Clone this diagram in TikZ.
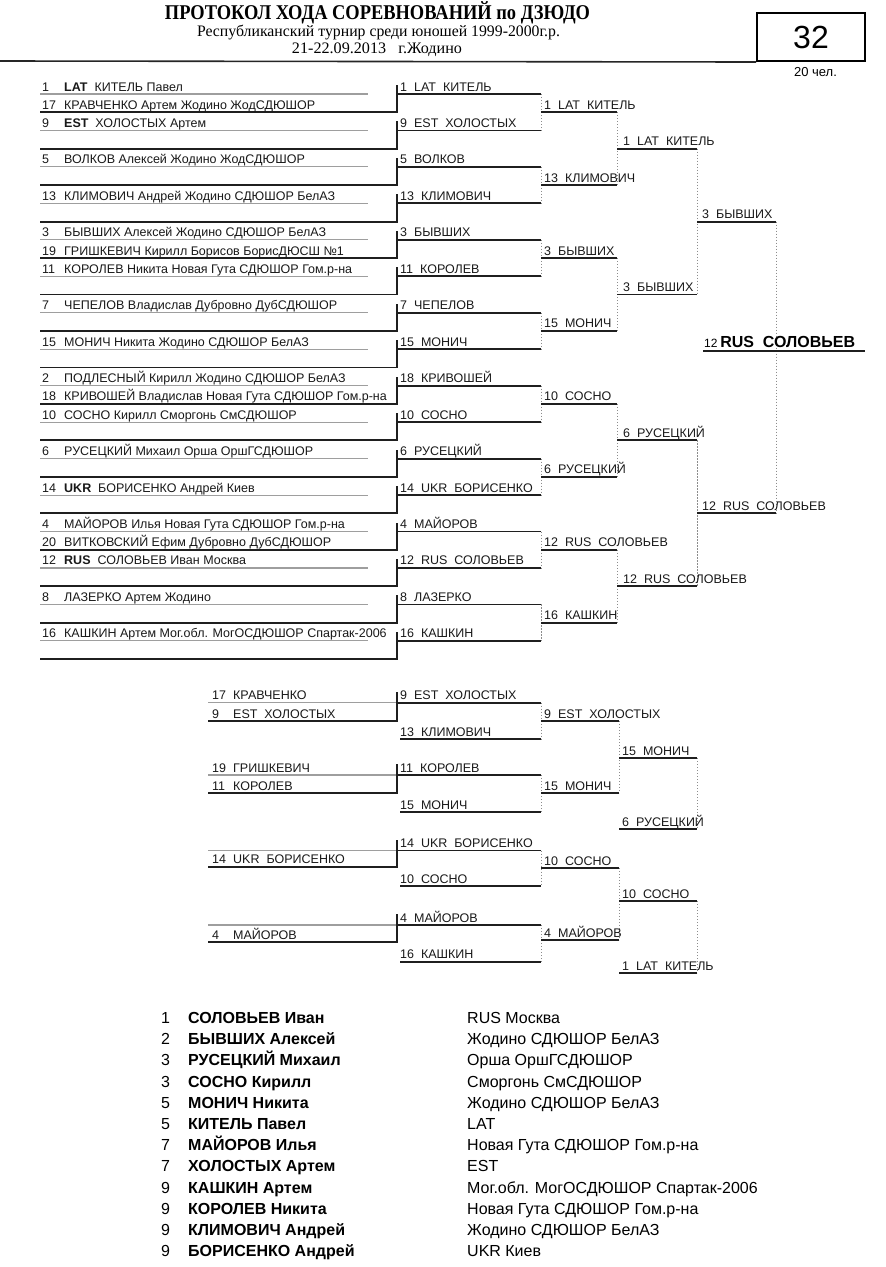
\documentclass[tikz,border=0pt]{standalone}
\usepackage{fontspec}
\usepackage{graphicx}
\setmainfont{Liberation Sans}
\newfontfamily\tmsfont{Liberation Serif}
\tikzset{
 gline/.style={draw=black!38, line width=1.1pt},
 dline/.style={draw=black!88, line width=1.8pt},
 dotv/.style={draw=black!45, line width=0.9pt, dash pattern=on 1.2pt off 1.8pt},
 lbl/.style={anchor=base west, inner sep=0pt, font=\fontsize{12.5}{14}\selectfont, text=black!90},
 res/.style={anchor=base west, inner sep=0pt, font=\fontsize{16}{17}\selectfont, text=black},
 hdr/.style={anchor=base, inner sep=0pt, text=black},
}
\begin{document}
\begin{tikzpicture}[x=1pt,y=-1pt]
\useasboundingbox (0,0) rectangle (886,1267);
\fill[white] (0,0) rectangle (886,1267);

% ---------- header ----------
\node[hdr] (title) at (377.5,19) {\resizebox{425pt}{\height}{\tmsfont\bfseries\fontsize{21}{21}\selectfont ПРОТОКОЛ ХОДА СОРЕВНОВАНИЙ по ДЗЮДО}};
\node[hdr] (sub) at (378.5,36) {\resizebox{363pt}{\height}{\tmsfont\fontsize{16}{16}\selectfont Республиканский турнир среди юношей 1999-2000г.р.}};
\node[hdr] (date) at (377,53) {\resizebox{170pt}{\height}{\tmsfont\fontsize{16}{16}\selectfont 21-22.09.2013~~~г.Жодино}};
\coordinate (hl0) at (0,61);
\node[draw, line width=2pt, minimum width=108pt, minimum height=48pt, inner sep=0pt, font=\fontsize{32}{32}\selectfont] (box) at (811,37) {32};
\draw[line width=1.6pt, black!85] (hl0) -- (box.south west);
\node[font=\fontsize{13}{13}\selectfont, inner sep=0pt] (cnt) at (815.5,72) {20 чел.};

% ---------- main bracket: lines ----------
\foreach \j in {1,...,8}{
  \pgfmathsetmacro\yt{94+18.23*(4*\j-4)}
  \pgfmathsetmacro\yb{94+18.23*(4*\j-2)}
  \coordinate (rbt\j) at (541,\yt); \coordinate (rbb\j) at (541,\yb);
  \draw[dotv] (rbt\j) -- (rbb\j);
}
\foreach \j in {1,...,4}{
  \pgfmathsetmacro\yt{94+18.23*(8*\j-7)}
  \pgfmathsetmacro\yb{94+18.23*(8*\j-3)}
  \coordinate (rct\j) at (617,\yt); \coordinate (rcb\j) at (617,\yb);
  \draw[dotv] (rct\j) -- (rcb\j);
}
\foreach \j in {1,2}{
  \pgfmathsetmacro\yt{94+18.23*(16*\j-13)}
  \pgfmathsetmacro\yb{94+18.23*(16*\j-5)}
  \coordinate (rdt\j) at (697,\yt); \coordinate (rdb\j) at (697,\yb);
  \draw[dotv] (rdt\j) -- (rdb\j);
}
\coordinate (fvt) at (776,{94+18.23*7});
\coordinate (fvb) at (776,{94+18.23*23});
\draw[dotv] (fvt) -- (fvb);

\foreach \k in {1,3,...,31}{
  \pgfmathsetmacro\ya{94+18.23*(\k-1)}
  \pgfmathsetmacro\yb{94+18.23*\k}
  \coordinate (ga\k) at (40,\ya); \coordinate (gb\k) at (368,\ya);
  \coordinate (da\k) at (40,\yb); \coordinate (db\k) at (397,\yb);
  \coordinate (vt\k) at (397,\ya-9);
  \coordinate (wa\k) at (397,\ya); \coordinate (wb\k) at (541,\ya);
  \draw[gline] (ga\k) -- (gb\k);
  \draw[dline] (da\k) -- (db\k) -- (vt\k);
  \draw[dline] (wa\k) -- (wb\k);
}
\foreach \j in {1,...,8}{
  \pgfmathsetmacro\ym{94+18.23*(4*\j-3)}
  \coordinate (rba\j) at (541,\ym); \coordinate (rbe\j) at (617,\ym);
  \draw[dline] (rba\j) -- (rbe\j);
}
\foreach \j in {1,...,4}{
  \pgfmathsetmacro\ym{94+18.23*(8*\j-5)}
  \coordinate (rca\j) at (617,\ym); \coordinate (rce\j) at (697,\ym);
  \draw[dline] (rca\j) -- (rce\j);
}
\foreach \j in {1,2}{
  \pgfmathsetmacro\ym{94+18.23*(16*\j-9)}
  \coordinate (rda\j) at (697,\ym); \coordinate (rde\j) at (776,\ym);
  \draw[dline] (rda\j) -- (rde\j);
}
\coordinate (fwa) at (703,351); \coordinate (fwe) at (865,351);
\draw[dline] (fwa) -- (fwe);

% ---------- main bracket: texts ----------
\foreach \r/\n/\t [count=\i] in {
  1/1/{\textbf{LAT}~~КИТЕЛЬ Павел},
  2/17/{КРАВЧЕНКО Артем Жодино ЖодСДЮШОР},
  3/9/{\textbf{EST}~~ХОЛОСТЫХ Артем},
  5/5/{ВОЛКОВ Алексей Жодино ЖодСДЮШОР},
  7/13/{КЛИМОВИЧ Андрей Жодино СДЮШОР БелАЗ},
  9/3/{БЫВШИХ Алексей Жодино СДЮШОР БелАЗ},
  10/19/{ГРИШКЕВИЧ Кирилл Борисов БорисДЮСШ №1},
  11/11/{КОРОЛЕВ Никита Новая Гута СДЮШОР Гом.р-на},
  13/7/{ЧЕПЕЛОВ Владислав Дубровно ДубСДЮШОР},
  15/15/{МОНИЧ Никита Жодино СДЮШОР БелАЗ},
  17/2/{ПОДЛЕСНЫЙ Кирилл Жодино СДЮШОР БелАЗ},
  18/18/{КРИВОШЕЙ Владислав Новая Гута СДЮШОР Гом.р-на},
  19/10/{СОСНО Кирилл Сморгонь СмСДЮШОР},
  21/6/{РУСЕЦКИЙ Михаил Орша ОршГСДЮШОР},
  23/14/{\textbf{UKR}~~БОРИСЕНКО Андрей Киев},
  25/4/{МАЙОРОВ Илья Новая Гута СДЮШОР Гом.р-на},
  26/20/{ВИТКОВСКИЙ Ефим Дубровно ДубСДЮШОР},
  27/12/{\textbf{RUS}~~СОЛОВЬЕВ Иван Москва},
  29/8/{ЛАЗЕРКО Артем Жодино},
  31/16/{КАШКИН Артем Мог.обл. МогОСДЮШОР Спартак-2006}}{
  \pgfmathsetmacro\yy{94+18.23*(\r-1)-3}
  \node[lbl] (pn\i) at (42,\yy) {\n};
  \node[lbl] (pt\i) at (64,\yy) {\t};
}
\foreach \r/\t [count=\i] in {
  1/{1~~LAT~~КИТЕЛЬ}, 3/{9~~EST~~ХОЛОСТЫХ}, 5/{5~~ВОЛКОВ}, 7/{13~~КЛИМОВИЧ},
  9/{3~~БЫВШИХ}, 11/{11~~КОРОЛЕВ}, 13/{7~~ЧЕПЕЛОВ}, 15/{15~~МОНИЧ},
  17/{18~~КРИВОШЕЙ}, 19/{10~~СОСНО}, 21/{6~~РУСЕЦКИЙ}, 23/{14~~UKR~~БОРИСЕНКО},
  25/{4~~МАЙОРОВ}, 27/{12~~RUS~~СОЛОВЬЕВ}, 29/{8~~ЛАЗЕРКО}, 31/{16~~КАШКИН}}{
  \pgfmathsetmacro\yy{94+18.23*(\r-1)-3}
  \node[lbl] (qa\i) at (400,\yy) {\t};
}
\foreach \r/\t [count=\i] in {
  2/{1~~LAT~~КИТЕЛЬ}, 6/{13~~КЛИМОВИЧ}, 10/{3~~БЫВШИХ}, 14/{15~~МОНИЧ},
  18/{10~~СОСНО}, 22/{6~~РУСЕЦКИЙ}, 26/{12~~RUS~~СОЛОВЬЕВ}, 30/{16~~КАШКИН}}{
  \pgfmathsetmacro\yy{94+18.23*(\r-1)-3}
  \node[lbl] (qb\i) at (544,\yy) {\t};
}
\foreach \r/\t [count=\i] in {
  4/{1~~LAT~~КИТЕЛЬ}, 12/{3~~БЫВШИХ}, 20/{6~~РУСЕЦКИЙ}, 28/{12~~RUS~~СОЛОВЬЕВ}}{
  \pgfmathsetmacro\yy{94+18.23*(\r-1)-3}
  \node[lbl] (qc\i) at (623,\yy) {\t};
}
\foreach \r/\t [count=\i] in {8/{3~~БЫВШИХ}, 24/{12~~RUS~~СОЛОВЬЕВ}}{
  \pgfmathsetmacro\yy{94+18.23*(\r-1)-3}
  \node[lbl] (qd\i) at (702,\yy) {\t};
}
\node[anchor=base west, inner sep=0pt] (champ) at (704,347.5)
  {{\fontsize{12}{12}\selectfont 12}~{\fontsize{16}{16}\selectfont\bfseries RUS~~СОЛОВЬЕВ}};

% ---------- repechage ----------
\foreach \yt/\yb [count=\i] in {702.7/739, 775/812, 850.5/886, 925/961.7}{
  \coordinate (et\i) at (541,\yt); \coordinate (eb\i) at (541,\yb);
  \draw[dotv] (et\i) -- (eb\i);
}
\foreach \yt/\yb [count=\i] in {721/793, 868/940}{
  \coordinate (ft\i) at (619,\yt); \coordinate (fb\i) at (619,\yb);
  \draw[dotv] (ft\i) -- (fb\i);
}
\foreach \yt/\yb [count=\i] in {758/829, 901/973}{
  \coordinate (ht\i) at (697,\yt); \coordinate (hb\i) at (697,\yb);
  \draw[dotv] (ht\i) -- (hb\i);
}
\foreach \yg/\yd/\yl/\ym [count=\i] in {702.7/721/739/721, 775/793.3/812/793, 850.5/866.7/886/868, 925/942/961.7/940}{
  \coordinate (sga\i) at (208,\yg); \coordinate (sgb\i) at (397,\yg);
  \coordinate (sda\i) at (208,\yd); \coordinate (sdb\i) at (397,\yd);
  \coordinate (svt\i) at (397,\yg-11);
  \coordinate (swe\i) at (541,\yg);
  \coordinate (sla\i) at (400,\yl); \coordinate (sle\i) at (541,\yl);
  \coordinate (sma\i) at (541,\ym); \coordinate (sme\i) at (619,\ym);
  \draw[gline] (sga\i) -- (sgb\i);
  \draw[dline] (sda\i) -- (sdb\i) -- (svt\i);
  \draw[dline] (sgb\i) -- (swe\i);
  \draw[dline] (sla\i) -- (sle\i);
  \draw[dline] (sma\i) -- (sme\i);
}
\foreach \y [count=\i] in {758, 829, 901, 973}{
  \coordinate (ka\i) at (619,\y); \coordinate (ke\i) at (697,\y);
  \draw[dline] (ka\i) -- (ke\i);
}
\foreach \y/\n/\t [count=\i] in {
  702.7/17/{КРАВЧЕНКО}, 721/9/{EST~~ХОЛОСТЫХ}, 775/19/{ГРИШКЕВИЧ}, 793.3/11/{КОРОЛЕВ},
  866.7/14/{UKR~~БОРИСЕНКО}, 942/4/{МАЙОРОВ}}{
  \node[lbl] (un\i) at (212,\y-3) {\n};
  \node[lbl] (ut\i) at (233,\y-3) {\t};
}
\foreach \y/\t [count=\i] in {
  702.7/{9~~EST~~ХОЛОСТЫХ}, 739/{13~~КЛИМОВИЧ}, 775/{11~~КОРОЛЕВ}, 812/{15~~МОНИЧ},
  850.5/{14~~UKR~~БОРИСЕНКО}, 886/{10~~СОСНО}, 925/{4~~МАЙОРОВ}, 961.7/{16~~КАШКИН}}{
  \node[lbl] (va\i) at (400,\y-3) {\t};
}
\foreach \y/\t [count=\i] in {
  721/{9~~EST~~ХОЛОСТЫХ}, 793/{15~~МОНИЧ}, 868/{10~~СОСНО}, 940/{4~~МАЙОРОВ}}{
  \node[lbl] (vb\i) at (544,\y-3) {\t};
}
\foreach \y/\t [count=\i] in {
  758/{15~~МОНИЧ}, 829/{6~~РУСЕЦКИЙ}, 901/{10~~СОСНО}, 973/{1~~LAT~~КИТЕЛЬ}}{
  \node[lbl] (vc\i) at (622,\y-3) {\t};
}

% ---------- results ----------
\foreach \p/\nm/\cl [count=\i] in {
  1/{СОЛОВЬЕВ Иван}/{RUS Москва},
  2/{БЫВШИХ Алексей}/{Жодино СДЮШОР БелАЗ},
  3/{РУСЕЦКИЙ Михаил}/{Орша ОршГСДЮШОР},
  3/{СОСНО Кирилл}/{Сморгонь СмСДЮШОР},
  5/{МОНИЧ Никита}/{Жодино СДЮШОР БелАЗ},
  5/{КИТЕЛЬ Павел}/{LAT},
  7/{МАЙОРОВ Илья}/{Новая Гута СДЮШОР Гом.р-на},
  7/{ХОЛОСТЫХ Артем}/{EST},
  9/{КАШКИН Артем}/{Мог.обл. МогОСДЮШОР Спартак-2006},
  9/{КОРОЛЕВ Никита}/{Новая Гута СДЮШОР Гом.р-на},
  9/{КЛИМОВИЧ Андрей}/{Жодино СДЮШОР БелАЗ},
  9/{БОРИСЕНКО Андрей}/{UKR Киев}}{
  \pgfmathsetmacro\yy{1023.5+21.2*(\i-1)}
  \node[res] (xp\i) at (161,\yy) {\p};
  \node[res, font=\fontsize{16}{17}\selectfont\bfseries] (xn\i) at (188,\yy) {\nm};
  \node[res] (xc\i) at (467,\yy) {\cl};
}
\end{tikzpicture}
\end{document}
